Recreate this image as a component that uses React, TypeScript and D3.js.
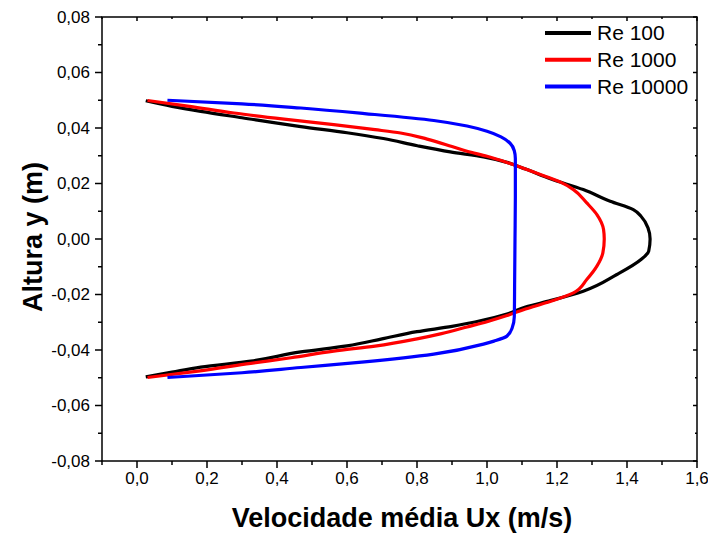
import React from 'react';
import * as d3 from 'd3';

// perfis de velocidade (x = Ux em m/s, y = altura em m)
const re100X = [0.025, 0.10, 0.182, 0.30, 0.468, 0.60, 0.704, 0.801, 0.895, 0.99, 1.057, 1.11, 1.181, 1.275, 1.352, 1.418, 1.440, 1.460, 1.466, 1.462, 1.440, 1.371, 1.275, 1.181, 1.11, 1.057, 0.99, 0.90, 0.80, 0.70, 0.60, 0.468, 0.325, 0.182, 0.10, 0.025];
const re100Y = [0.0498, 0.0478, 0.0460, 0.0437, 0.0405, 0.0383, 0.0362, 0.0336, 0.0314, 0.0296, 0.0276, 0.0252, 0.0217, 0.0178, 0.0136, 0.0106, 0.0082, 0.0040, 0.0, -0.0044, -0.0074, -0.0128, -0.0188, -0.0222, -0.0245, -0.0270, -0.0292, -0.0315, -0.0334, -0.0360, -0.0385, -0.0407, -0.0440, -0.0462, -0.0480, -0.0497];

const re1000X = [0.030, 0.15, 0.277, 0.42, 0.562, 0.68, 0.753, 0.829, 0.90, 0.943, 1.00, 1.057, 1.11, 1.162, 1.21, 1.247, 1.285, 1.314, 1.333, 1.335, 1.331, 1.314, 1.285, 1.247, 1.171, 1.11, 1.057, 1.00, 0.943, 0.87, 0.80, 0.68, 0.562, 0.44, 0.325, 0.18, 0.030];
const re1000Y = [0.0499, 0.0478, 0.0454, 0.0432, 0.0412, 0.0394, 0.0382, 0.0360, 0.0333, 0.0316, 0.0298, 0.0276, 0.0252, 0.0228, 0.0205, 0.0178, 0.0130, 0.0088, 0.0034, 0.0, -0.0050, -0.0098, -0.0146, -0.0194, -0.0229, -0.0252, -0.0276, -0.0298, -0.0317, -0.0341, -0.0360, -0.0386, -0.0404, -0.0428, -0.0448, -0.0475, -0.0499];

const re10000X = [0.087, 0.30, 0.468, 0.65, 0.848, 0.943, 1.00, 1.04, 1.066, 1.078, 1.081, 1.081, 1.080, 1.079, 1.078, 1.072, 1.057, 1.02, 0.990, 0.848, 0.65, 0.468, 0.30, 0.087];
const re10000Y = [0.0500, 0.0487, 0.0472, 0.0452, 0.0427, 0.0407, 0.0388, 0.0368, 0.0345, 0.0318, 0.0290, 0.0150, 0.0, -0.0150, -0.0280, -0.0320, -0.0350, -0.0368, -0.0379, -0.0415, -0.0443, -0.0463, -0.0482, -0.0499];

const seriesNames = ['Re 100', 'Re 1000', 'Re 10000'];
const seriesColors = ['#000000', '#ff0000', '#0000ff'];

const xMajor = [0, 0.2, 0.4, 0.6, 0.8, 1.0, 1.2, 1.4, 1.6];
const xMinor = [-0.1, 0.1, 0.3, 0.5, 0.7, 0.9, 1.1, 1.3, 1.5];
const yMajor = [-0.08, -0.06, -0.04, -0.02, 0, 0.02, 0.04, 0.06, 0.08];
const yMinor = [-0.07, -0.05, -0.03, -0.01, 0.01, 0.03, 0.05, 0.07];

const W = 708;
const H = 535;
const left = 102, right = 697, top = 17, bottom = 461;

const locale = d3.formatLocale({ decimal: ',', thousands: '.', grouping: [3], currency: ['', ''], minus: '-' });
const fmtX = locale.format('.1f');
const fmtY = locale.format('.2f');

const App = () => {
  const x = d3.scaleLinear().domain([-0.1, 1.6]).range([left, right]);
  const y = d3.scaleLinear().domain([-0.08, 0.08]).range([bottom, top]);

  const line = d3.line<[number, number]>()
    .x(d => x(d[0]))
    .y(d => y(d[1]))
    .curve(d3.curveMonotoneY);

  const series = [
    re100X.map((v, i) => [v, re100Y[i]] as [number, number]),
    re1000X.map((v, i) => [v, re1000Y[i]] as [number, number]),
    re10000X.map((v, i) => [v, re10000Y[i]] as [number, number]),
  ];

  const font = '"Liberation Sans", Arial, sans-serif';

  return (
    <svg width={W} height={H} style={{ position: 'absolute', left: 0, top: 0 }} fontFamily={font}>
      <rect width={W} height={H} fill="#fff" />

      {/* curvas */}
      <g fill="none" strokeWidth={3.2} strokeLinejoin="round" strokeLinecap="butt">
        {series.map((pts, i) => (
          <path key={i} d={line(pts) || ''} stroke={seriesColors[i]} />
        ))}
      </g>

      {/* moldura */}
      <rect x={left} y={top} width={right - left} height={bottom - top} fill="none" stroke="#000" strokeWidth={1.5} />

      {/* ticks */}
      <g stroke="#000" strokeWidth={1.5}>
        {xMajor.map(t => <line key={'xb' + t} x1={x(t)} x2={x(t)} y1={bottom} y2={bottom + 7} />)}
        {xMinor.map(t => <line key={'xbm' + t} x1={x(t)} x2={x(t)} y1={bottom} y2={bottom + 4} />)}
        {xMajor.map(t => <line key={'xt' + t} x1={x(t)} x2={x(t)} y1={top} y2={top + 4} />)}
        {xMinor.map(t => <line key={'xtm' + t} x1={x(t)} x2={x(t)} y1={top} y2={top + 2} />)}
        {yMajor.map(t => <line key={'yl' + t} x1={left} x2={left - 7} y1={y(t)} y2={y(t)} />)}
        {yMinor.map(t => <line key={'ylm' + t} x1={left} x2={left - 4} y1={y(t)} y2={y(t)} />)}
        {yMajor.map(t => <line key={'yr' + t} x1={right} x2={right - 4} y1={y(t)} y2={y(t)} />)}
        {yMinor.map(t => <line key={'yrm' + t} x1={right} x2={right - 2} y1={y(t)} y2={y(t)} />)}
      </g>

      {/* rotulos */}
      <g fontSize={17} fill="#000">
        {xMajor.map(t => (
          <text key={'lx' + t} x={x(t)} y={bottom + 23} textAnchor="middle">{fmtX(t)}</text>
        ))}
        {yMajor.map(t => (
          <text key={'ly' + t} x={left - 12} y={y(t)} dy="0.35em" textAnchor="end">{fmtY(t)}</text>
        ))}
      </g>

      <text x={402} y={527} textAnchor="middle" fontSize={27} fontWeight="bold">
        Velocidade média Ux (m/s)
      </text>
      <text transform={`translate(42, 237) rotate(-90)`} textAnchor="middle" fontSize={27} fontWeight="bold">
        Altura y (m)
      </text>

      {/* legenda */}
      <g>
        {seriesNames.map((name, i) => (
          <g key={name} transform={`translate(545, ${33 + i * 26.7})`}>
            <line x1={0} x2={46} y1={0} y2={0} stroke={seriesColors[i]} strokeWidth={4} />
            <text x={52} y={0} dy="0.35em" fontSize={21}>{name}</text>
          </g>
        ))}
      </g>
    </svg>
  );
};

export default App;
